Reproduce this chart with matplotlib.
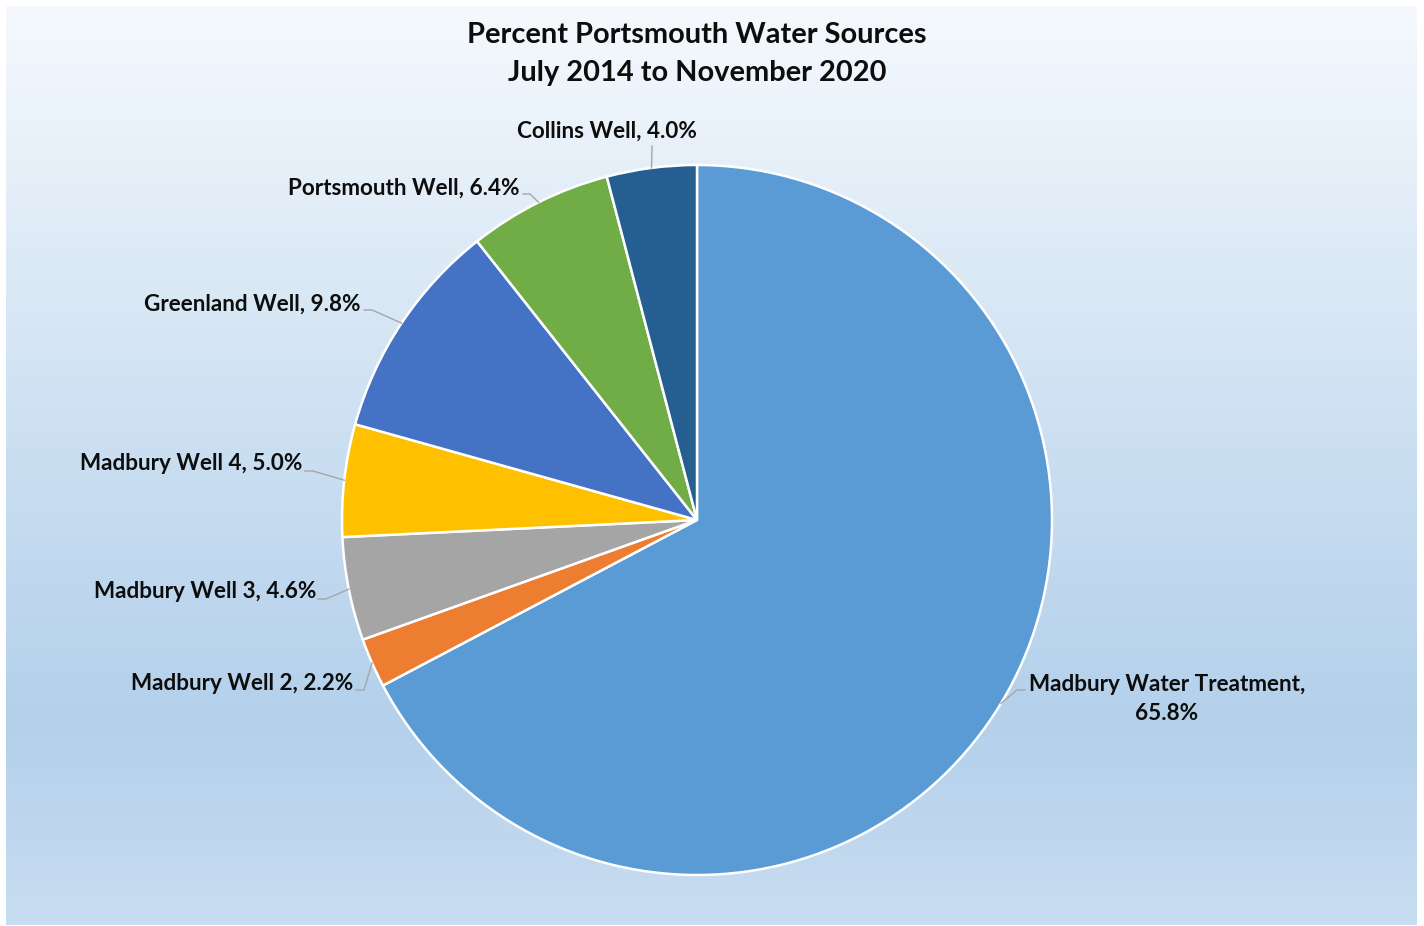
import numpy as np
import matplotlib
matplotlib.use('Agg')
from matplotlib import pyplot as plt
from matplotlib.colors import LinearSegmentedColormap

# data
sources = ['Madbury Water Treatment', 'Madbury Well 2', 'Madbury Well 3',
           'Madbury Well 4', 'Greenland Well', 'Portsmouth Well', 'Collins Well']
percent = [65.8, 2.2, 4.6, 5.0, 9.8, 6.4, 4.0]
colors = ['#5B9BD5', '#ED7D31', '#A5A5A5', '#FFC000', '#4472C4', '#70AD47', '#255E91']

W, H = 1424, 926
plt.rcParams['font.family'] = ['Lato', 'DejaVu Sans']

fig = plt.figure(figsize=(W / 100, H / 100), dpi=100)
fig.patch.set_facecolor('white')
ax = fig.add_axes([0, 0, 1, 1])

# background gradient panel
bg = LinearSegmentedColormap.from_list('bg', [(0.0, '#f5f9fd'), (0.5, '#c9def1'),
                                              (0.78, '#b4d0eb'), (1.0, '#c8ddf1')])
grad = np.linspace(0, 1, 256).reshape(-1, 1)
ax.imshow(grad, cmap=bg, aspect='auto', extent=(6, 1417, H - 925, H - 6),
          origin='upper', zorder=0)

cx, cy, r = 697, H - 520, 355
wedges, _ = ax.pie(percent, colors=colors, startangle=90, counterclock=False,
                   center=(cx, cy), radius=r, frame=True,
                   wedgeprops=dict(edgecolor='white', linewidth=1.8))
for w in wedges:
    w.set_zorder(2)

ax.set_xlim(0, W)
ax.set_ylim(0, H)
ax.set_aspect('equal')
ax.axis('off')

fs = 16.2
# label layout: text anchor (pixel coords), alignment, leader start, elbow
layout = [
    dict(xy=(1167, 699), ha='center', start=(1025, 690), elbow=(1017, 690)),
    dict(xy=(353, 684), ha='right', start=(356, 690), elbow=(364, 690)),
    dict(xy=(316, 592), ha='right', start=(318, 599), elbow=(326, 599)),
    dict(xy=(302, 463), ha='right', start=(305, 471), elbow=(313, 471)),
    dict(xy=(361, 304), ha='right', start=(364, 310), elbow=(372, 310)),
    dict(xy=(520, 188), ha='right', start=(523, 194), elbow=(530, 194)),
    dict(xy=(607, 131), ha='center', start=(652, 146), elbow=(652, 146)),
]

for w, name, p, lay in zip(wedges, sources, percent, layout):
    if name == 'Madbury Water Treatment':
        txt = f'{name},\n{p:.1f}%'
    else:
        txt = f'{name}, {p:.1f}%'
    ax.text(lay['xy'][0], H - lay['xy'][1], txt, ha=lay['ha'], va='center',
            fontsize=fs, fontweight='bold', color='#0d0d0d',
            linespacing=1.42, zorder=4)
    ang = np.deg2rad((w.theta1 + w.theta2) / 2)
    ex, ey = cx + r * np.cos(ang), cy + r * np.sin(ang)
    sx, sy = lay['start']
    bx, by = lay['elbow']
    ax.plot([sx, bx, ex], [H - sy, H - by, ey], color='#a6a6a6', lw=1.0, zorder=3)

ax.text(697, H - 35, 'Percent Portsmouth Water Sources', ha='center', va='center',
        fontsize=20.9, fontweight='bold', color='#0d0d0d', zorder=4)
ax.text(697, H - 73, 'July 2014 to November 2020', ha='center', va='center',
        fontsize=20.9, fontweight='bold', color='#0d0d0d', zorder=4)

fig.savefig('out.png', dpi=100, facecolor='white')
